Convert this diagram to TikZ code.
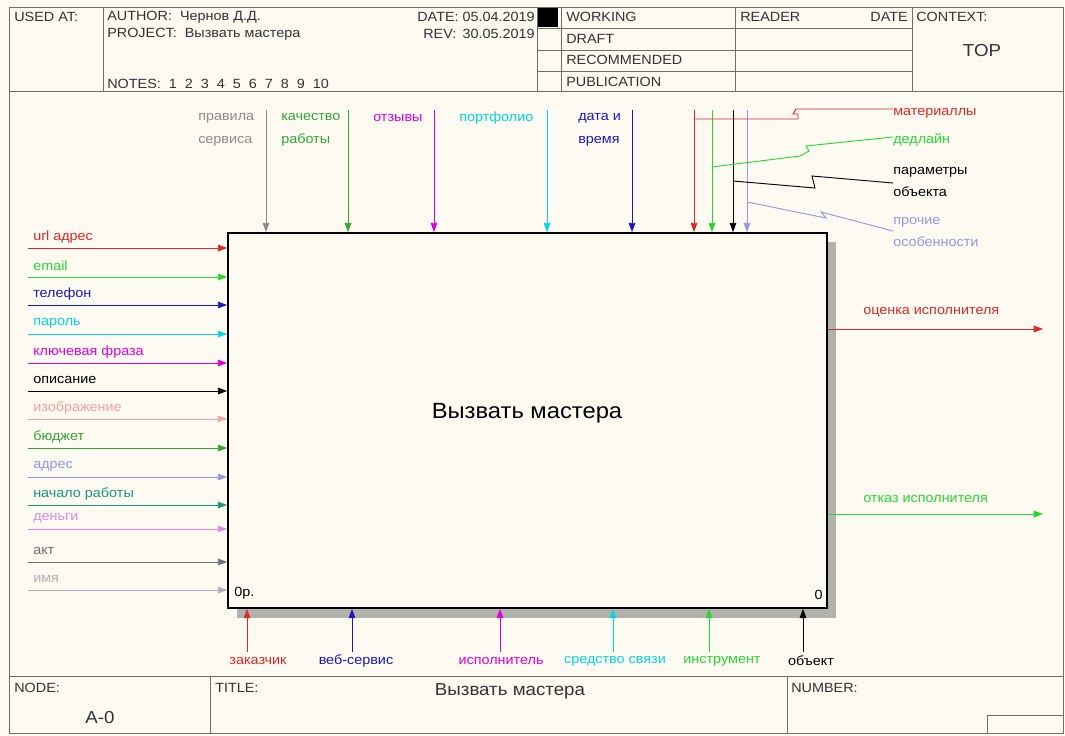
\documentclass[tikz,border=0pt]{standalone}
\usepackage{fontspec}
\setmainfont{Liberation Sans}[FakeStretch=1.08]
\usetikzlibrary{arrows.meta,fit}
\definecolor{bg}{RGB}{253,250,241}
\definecolor{frame}{RGB}{110,110,105}
\definecolor{cRed}{RGB}{220,40,40}
\definecolor{cGreen}{RGB}{40,215,50}
\definecolor{cDGreen}{RGB}{50,165,50}
\definecolor{cBlue}{RGB}{25,25,195}
\definecolor{cCyan}{RGB}{0,215,225}
\definecolor{cMag}{RGB}{220,0,220}
\definecolor{cPink}{RGB}{245,160,160}
\definecolor{cLav}{RGB}{150,150,232}
\definecolor{cTeal}{RGB}{30,150,125}
\definecolor{cViolet}{RGB}{215,140,235}
\definecolor{cGray}{RGB}{110,110,110}
\definecolor{cLGray}{RGB}{175,175,175}
\definecolor{cMGray}{RGB}{140,140,140}
\definecolor{shadowc}{RGB}{178,178,172}
\tikzset{
  hdr/.style={inner sep=0, font=\fontsize{10}{12}\selectfont, text=black!80},
  lbl/.style={inner sep=0, font=\fontsize{10}{12}\selectfont},
  lbltwo/.style={inner sep=0, align=left, font=\fontsize{10}{17}\selectfont},
  arr/.style={line width=0.7pt, -{Triangle[length=7pt,width=5pt]}},
  ln/.style={line width=0.7pt},
  grid/.style={draw=frame, line width=0.65pt},
}
\begin{document}
\begin{tikzpicture}[x=0.75pt,y=-0.75pt]
\useasboundingbox (0,0) rectangle (1065,736);
\fill[bg] (0,0) rectangle (1065,736);
% ---------- frame ----------
\draw[grid] (9,7) rectangle (1063,733);
\draw[grid] (9,91) -- (1063,91);
\draw[grid] (103,7) -- (103,91);
\draw[grid] (537,7) -- (537,91);
\draw[grid] (561,7) -- (561,91);
\draw[grid] (735,7) -- (735,91);
\draw[grid] (912,7) -- (912,91);
\draw[grid] (537,28) -- (912,28);
\draw[grid] (537,50) -- (912,50);
\draw[grid] (537,71) -- (912,71);
\fill[black] (538,8) rectangle (558,27);
\draw[grid] (9,676) -- (1063,676);
\draw[grid] (210,676) -- (210,733);
\draw[grid] (787,676) -- (787,733);
\draw[grid] (987,715) rectangle (1063,733);
% header texts
\node[hdr, anchor=west] (usedat) at (14,17) {USED AT:};
\node[hdr, anchor=west] (author) at (107,17) {AUTHOR:\ \ Чернов Д.Д.};
\node[hdr, anchor=west] (project) at (107,34) {PROJECT:\ \ Вызвать мастера};
\node[hdr, anchor=west] (notes) at (107,84) {NOTES:\ \ 1\ \ 2\ \ 3\ \ 4\ \ 5\ \ 6\ \ 7\ \ 8\ \ 9\ \ 10};
\node[hdr, anchor=east] (date) at (535,17) {DATE: 05.04.2019};
\node[hdr, anchor=west] (rev) at (423,34) {REV:};
\node[hdr, anchor=east] (revd) at (535,34) {30.05.2019};
\node[hdr, anchor=west] (working) at (566,17) {WORKING};
\node[hdr, anchor=west] (draft) at (566,39) {DRAFT};
\node[hdr, anchor=west] (recom) at (566,60) {RECOMMENDED};
\node[hdr, anchor=west] (publ) at (566,82) {PUBLICATION};
\node[hdr, anchor=west] (reader) at (740,17) {READER};
\node[hdr, anchor=east] (rdate) at (908,17) {DATE};
\node[hdr, anchor=west] (context) at (916,17) {CONTEXT:};
\node[hdr, font=\fontsize{13}{15}\selectfont] (top) at (982,51) {TOP};
% footer texts
\node[hdr, anchor=west] (nodel) at (14,688) {NODE:};
\node[hdr, font=\fontsize{13}{15}\selectfont] (a0) at (100,718) {A-0};
\node[hdr, anchor=west] (titlel) at (215,688) {TITLE:};
\node[hdr, font=\fontsize{13}{15}\selectfont] (titlet) at (510,691) {Вызвать мастера};
\node[hdr, anchor=west] (numberl) at (791,688) {NUMBER:};
% ---------- main box ----------
\fill[shadowc] (237,242) rectangle (836,618);
\coordinate (boxNW) at (228,233);
\coordinate (boxSE) at (827,608);
\node[fit=(boxNW)(boxSE), inner sep=0, fill=bg, draw=black, line width=1.3pt] (box) {};
\node[font=\fontsize{16.5}{18}\selectfont, inner sep=0] (boxtitle) at (527,413) {Вызвать мастера};
\node[lbl, anchor=south west] (nodeno) at (234,600) {0р.};
\node[lbl, anchor=south east] (cost) at (823,600) {0};
% ---------- inputs (left) ----------
\foreach \y/\c/\t/\n in {248/cRed/url адрес/i1, 277/cGreen/email/i2, 305/cBlue/телефон/i3,
  334/cCyan/пароль/i4, 363/cMag/ключевая фраза/i5, 391/black/описание/i6,
  419/cPink/изображение/i7, 448/cDGreen/бюджет/i8, 477/cLav/адрес/i9,
  505/cTeal/начало работы/i10, 529/cViolet/деньги/i11, 562/cGray/акт/i12,
  590/cLGray/имя/i13}{
  \coordinate (\n) at (28,\y);
  \node[lbl, anchor=west, text=\c] (\n l) at (33,\y-11) {\t};
  \draw[arr, \c] (\n) -- (\n -| box.west);
}
% ---------- controls (top) ----------
\coordinate (c1) at (266,110);
\coordinate (c2) at (348,110);
\coordinate (c3) at (434,110);
\coordinate (c4) at (547,110);
\coordinate (c5) at (632,110);
\draw[arr, cMGray] (c1) -- (c1 |- box.north);
\draw[arr, cDGreen] (c2) -- (c2 |- box.north);
\draw[arr, cMag] (c3) -- (c3 |- box.north);
\draw[arr, cCyan] (c4) -- (c4 |- box.north);
\draw[arr, cBlue] (c5) -- (c5 |- box.north);
\node[lbltwo, anchor=west, text=cMGray] (c1l) at (198,130) {правила\\сервиса};
\node[lbltwo, anchor=west, text=cDGreen] (c2l) at (281,130) {качество\\работы};
\node[lbl, anchor=west, text=cMag] (c3l) at (373,118) {отзывы};
\node[lbl, anchor=west, text=cCyan] (c4l) at (459,118) {портфолио};
\node[lbltwo, anchor=west, text=cBlue] (c5l) at (578,130) {дата и\\время};
% right-hand controls joined by squiggles
\coordinate (c6) at (694,110);
\coordinate (c7) at (712,110);
\coordinate (c8) at (733,110);
\coordinate (c9) at (747,110);
\draw[arr, cRed] (c6) -- (c6 |- box.north);
\draw[arr, cGreen] (c7) -- (c7 |- box.north);
\draw[arr, black] (c8) -- (c8 |- box.north);
\draw[arr, cLav] (c9) -- (c9 |- box.north);
\node[lbl, anchor=west, text=cRed] (c6l) at (893,113) {материаллы};
\node[lbl, anchor=west, text=cGreen] (c7l) at (893,140) {дедлайн};
\node[lbltwo, anchor=west, text=black] (c8l) at (893,182) {параметры\\объекта};
\node[lbltwo, anchor=west, text=cLav] (c9l) at (893,232) {прочие\\особенности};
\coordinate (j6) at (694,119);
\coordinate (j7) at (712,167);
\coordinate (j8) at (733,181);
\coordinate (j9) at (747,202);
\draw[ln, cRed] (c6l.west |- 0,109) -- (796,109) -- (793,114) -- (798,114) -- (798,119) -- (j6);
\draw[ln, cGreen] (c7l.west |- 0,137) -- (806,146) -- (809,151) -- (800,156) -- (j7);
\draw[ln, black] (c8l.west |- 0,183) -- (812,176) -- (815,188) -- (j8);
\draw[ln, cLav] (c9l.west |- 0,231) -- (821,212) -- (826,218) -- (j9);
% ---------- outputs (right) ----------
\coordinate (o1) at (1043,329);
\coordinate (o2) at (1043,514);
\draw[arr, cRed] (o1 -| box.east) -- (o1);
\draw[arr, cGreen] (o2 -| box.east) -- (o2);
\node[lbl, anchor=west, text=cRed] (o1l) at (863,312) {оценка исполнителя};
\node[lbl, anchor=west, text=cGreen] (o2l) at (863,499) {отказ исполнителя};
% ---------- mechanisms (bottom) ----------
\foreach \x/\lx/\c/\t/\n in {247/258/cRed/заказчик/m1, 352/356/cBlue/веб-сервис/m2,
  500/501/cMag/исполнитель/m3, 613/615/cCyan/средство связи/m4,
  709/722/cGreen/инструмент/m5, 803/811/black/объект/m6}{
  \coordinate (\n) at (\x,652);
  \draw[arr, \c] (\n) -- (\n |- box.south);
  \node[lbl, text=\c] (\n l) at (\lx,661) {\t};
}
\end{tikzpicture}
\end{document}
